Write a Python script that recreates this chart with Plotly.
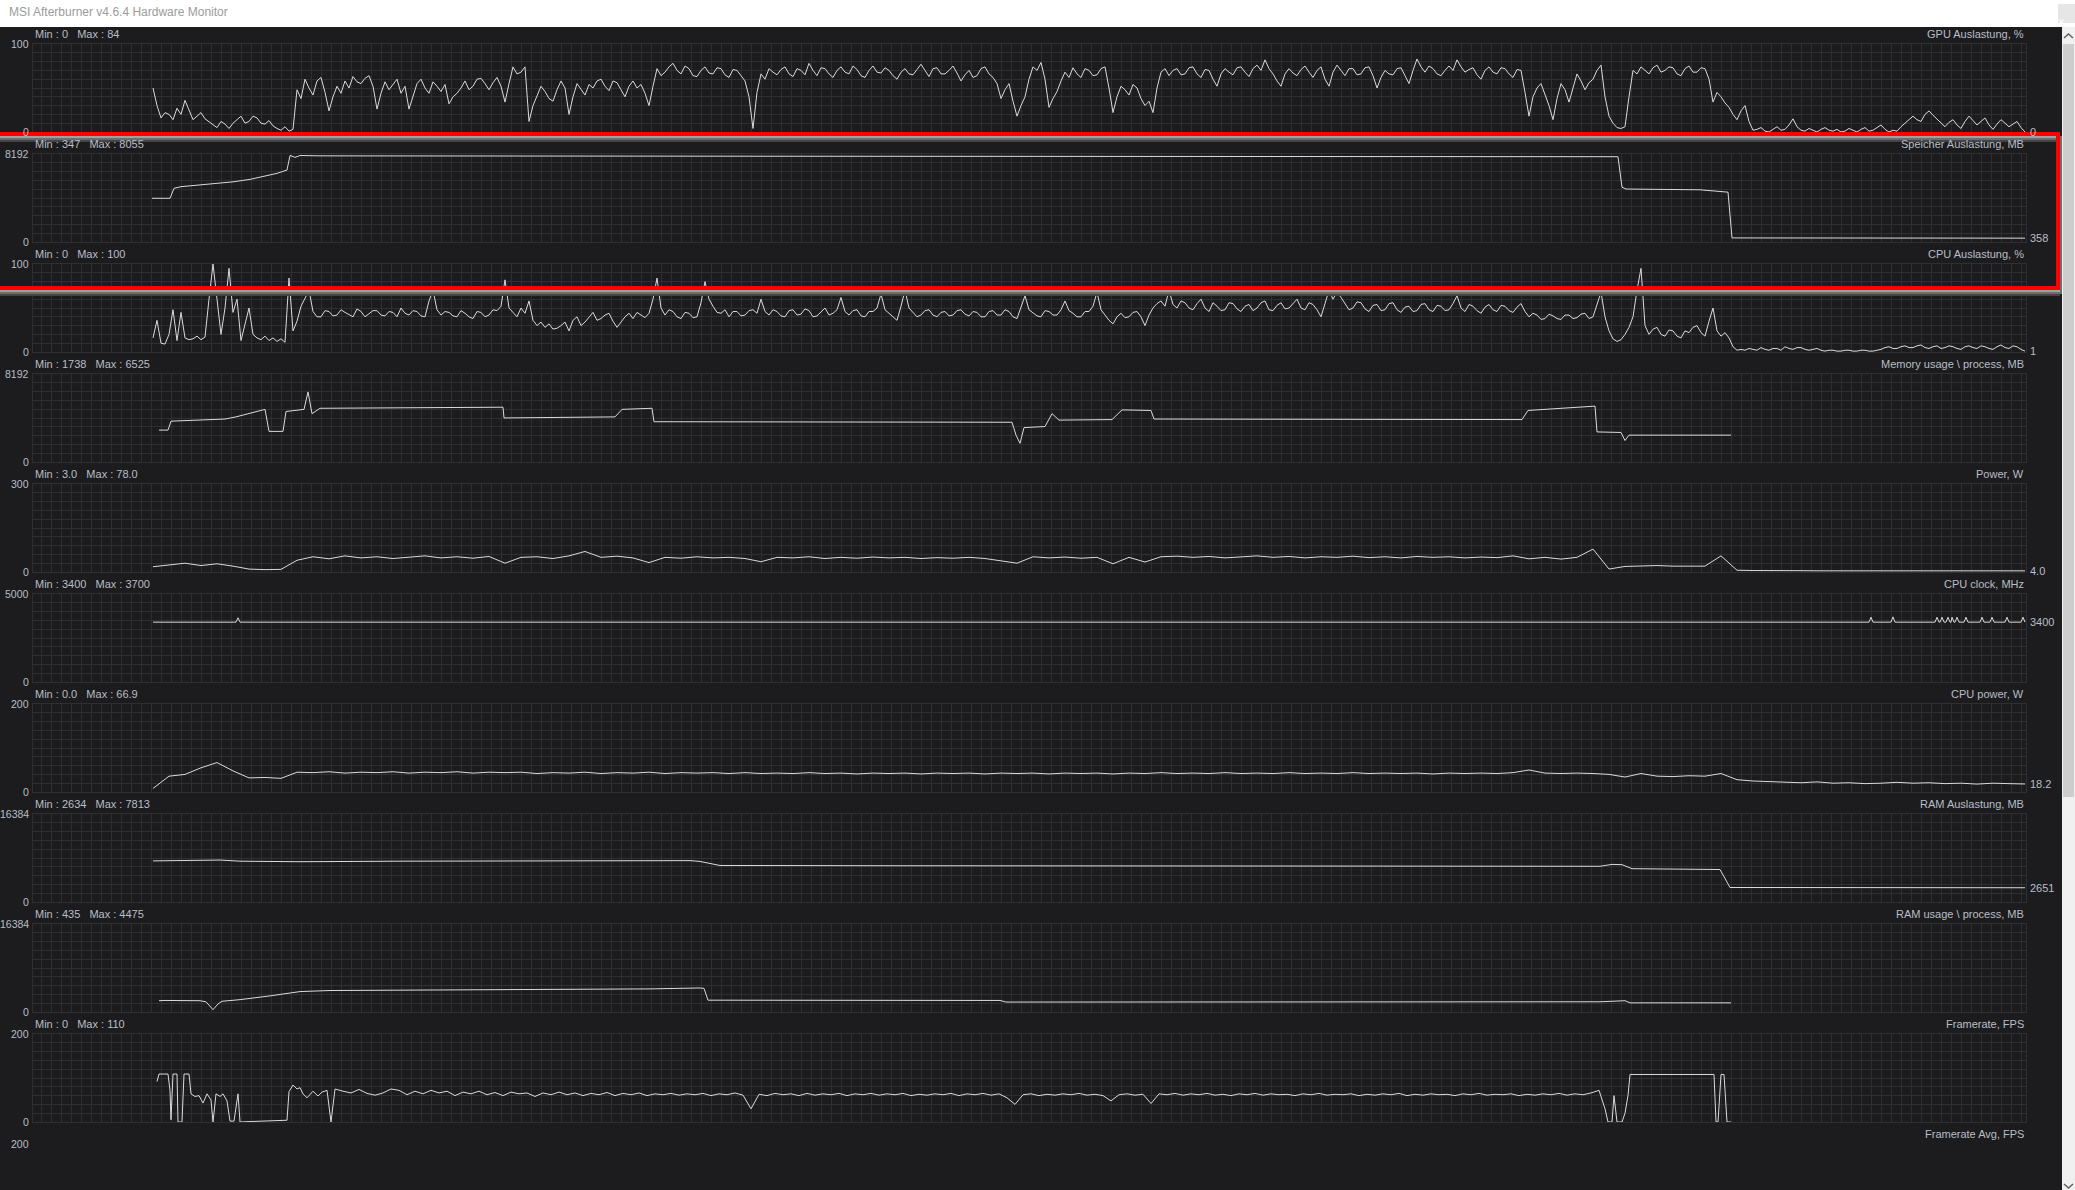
import plotly.graph_objects as go

W, H = 2075, 1190

# ---------------- data (time axis in sample units) ----------------
SAMPLE_START = 153
SAMPLE_END = 2025

gpu_load = [
    50,30, 16,22, 20,14, 27,20, 36,25, 14,18, 22,15, 12,8, 5,12, 9,4,
    10,14, 18,10, 12,18, 16,10, 9,13, 7,4, 2,6, 1,3, 48,38, 60,50,
    42,58, 62,45, 24,40, 52,44, 58,50, 63,57, 55,61, 64,52, 26,44, 57,48,
    54,60, 44,52, 26,40, 55,60, 50,44, 57,52, 46,54, 32,40, 44,50, 58,48,
    52,60, 61,55, 48,56, 62,52, 34,55, 74,66, 68,74, 12,30, 40,52, 46,38,
    35,48, 58,50, 20,40, 55,48, 42,54, 50,58, 60,52, 47,58, 56,48, 40,52,
    58,50, 54,44, 30,52, 72,64, 68,74, 78,70, 66,75, 72,64, 63,70, 74,67,
    66,73, 72,65, 62,71, 70,64, 58,40, 4,45, 66,60, 72,68, 65,71, 74,66,
    63,72, 70,65, 78,70, 64,73, 72,66, 62,70, 74,68, 66,75, 71,64, 62,70,
    75,68, 67,73, 70,64, 60,68, 72,66, 65,71, 77,70, 63,72, 73,66, 66,70,
    75,67, 58,65, 70,62, 64,72, 74,66, 62,55, 38,48, 55,35, 18,30, 40,60,
    74,70, 79,60, 28,38, 46,58, 68,62, 73,66, 62,72, 70,64, 65,72, 74,50,
    22,40, 52,48, 42,54, 50,38, 30,35, 22,50, 68,72, 64,70, 72,65, 66,73,
    74,66, 62,71, 70,60, 52,66, 72,68, 65,73, 74,68, 63,72, 76,70, 82,72,
    66,58, 52,66, 72,67, 64,71, 75,68, 62,70, 74,60, 52,68, 76,70, 64,72,
    72,65, 66,73, 74,64, 50,62, 70,66, 65,72, 73,64, 55,70, 83,74, 68,75,
    72,66, 64,70, 75,70, 82,74, 68,71, 73,65, 60,70, 74,68, 66,73, 72,66,
    62,71, 70,45, 18,40, 50,55, 42,30, 14,38, 55,48, 34,50, 66,58, 48,56,
    60,70, 76,40, 18,10, 5,4, 6,40, 70,66, 74,70, 66,73, 76,68, 70,74,
    73,66, 64,72, 75,68, 68,73, 72,60, 34,45, 40,33, 28,20, 14,24, 30,12,
    2,3, 5,1, 0,3, 6,2, 3,8, 15,6, 2,1, 4,2, 0,3, 5,2,
    1,3, 0,1, 4,2, 0,3, 5,1, 2,5, 8,3, 0,2, 1,6, 10,15,
    18,14, 12,20, 24,19, 15,10, 6,11, 14,8, 4,12, 18,13, 8,12, 16,8,
    3,9, 14,10, 6,9, 12,5, 0]

vram_t = [152, 170, 174, 181, 233, 250, 277, 287, 290, 295, 300, 320, 700, 1100, 1500, 1618, 1622, 1626,
          1700, 1720, 1728, 1732, 1828, 1830, 2025]
vram_v = [4070, 4070, 5000, 5150, 5600, 5830, 6390, 6700, 8055, 7880, 8050, 8020, 7990, 7970, 7950, 7940,
          5100, 4930, 4860, 4660, 4640, 380, 380, 358, 358]

cpu_load = [
    16,36,10,9,20, 48,13,45,16,14, 15,18,14,17,60, 100,60,20,50,95, 45,60,13,30,50,
    20,16,14,18,13, 16,12,15,11,84, 24,35,52,62,70, 46,40,
    40,47, 46,41, 42,48, 45,42, 40,49, 46,40, 43,47, 47,42, 41,46,
    45,40, 50,44, 42,47, 46,41, 40,58, 70,48, 42,46, 45,41, 40,47, 44,40,
    38,46, 45,40, 42,48, 47,52, 82,50, 45,40, 50,44, 58,36, 30,34, 28,32,
    26,27, 30,34, 24,36, 40,30, 34,40, 45,36, 38,42, 44,35, 28,34, 40,44,
    38,45, 42,39, 44,60, 84,50, 42,48, 46,40, 38,45, 44,39, 40,56, 80,60,
    52,45, 44,48, 40,46, 46,41, 42,47, 48,44, 60,46, 42,48, 46,41, 40,47,
    48,42, 43,49, 47,40, 41,46, 50,42, 44,48, 62,46, 42,47, 48,41, 40,46,
    46,50, 66,48, 44,40, 36,52, 70,50, 45,40, 42,47, 48,42, 40,45, 46,41,
    42,47, 48,43, 41,46, 45,40, 40,46, 47,42, 42,48, 46,40, 38,50, 64,48,
    44,41, 40,47, 46,42, 42,48, 58,47, 44,40, 40,46, 46,52, 68,48, 42,36,
    32,40, 44,39, 40,45, 46,40, 30,42, 50,55, 58,52, 70,54, 50,58, 56,50,
    48,55, 60,50, 46,56, 52,47, 48,56, 55,49, 46,52, 54,47, 50,56, 58,48,
    47,53, 56,49, 50,55, 60,50, 48,56, 54,48, 40,55, 70,60, 68,62, 55,48,
    50,57, 56,49, 46,53, 54,47, 48,55, 56,48, 45,51, 52,46, 47,54, 55,48,
    46,53, 52,47, 48,55, 64,50, 46,54, 52,47, 44,51, 54,48, 46,53, 52,47,
    45,51, 55,46, 40,44, 42,37, 38,43, 41,38, 37,42, 42,38, 39,43, 44,38,
    40,55, 68,40, 24,15, 12,14, 20,28, 40,70, 95,30, 20,26, 28,20, 18,25,
    24,18, 16,24, 22,28, 30,22, 18,35, 50,24, 18,22, 16,6, 2,3, 2,4,
    3,2, 5,3, 2,4, 4,2, 6,4, 3,5, 5,3, 2,3, 4,2, 1,2,
    2,1, 1,2, 2,1, 1,2, 2,1, 1,2, 3,5, 6,4, 4,6, 7,5,
    5,7, 8,5, 4,6, 7,4, 5,7, 6,4, 3,6, 7,5, 4,7, 6,4,
    3,6, 8,5, 4,7, 6,3, 1]

procmem_t = [159, 168, 171, 225, 236, 265, 269, 283, 286, 304, 308, 312, 320, 503, 504, 615, 622, 652, 654,
             1012, 1016, 1020, 1024, 1045, 1052, 1059, 1112, 1122, 1151, 1154, 1522, 1528, 1595, 1597,
             1621, 1625, 1629, 1731]
procmem_v = [2970, 2970, 3800, 4000, 4200, 4900, 2850, 2850, 4700, 4900, 6525, 4500, 5000, 5100, 4100, 4200,
             4900, 5000, 3750, 3700, 2500, 1738, 3200, 3300, 4500, 3900, 3950, 4850, 4800, 4000, 3950,
             4800, 5200, 2800, 2750, 2000, 2500, 2500]

power = [18,25,30,22,28,20,10,8,9,40,52,45,55,48,52,46,50,55,48,52,47,53,30,50,52,46,55,70,50,54,
         48,32,50,47,52,48,50,46,35,50,48,52,46,50,47,51,48,50,46,49,47,50,46,38,30,52,48,51,47,50,
         28,50,34,52,54,50,53,48,52,55,50,53,48,52,50,54,49,52,48,53,50,52,48,51,49,55,45,50,44,50,
         78,10,19,20,22,20,21,20,55,6,5,4,4,4.5,4,4,4,4,4,4.5,4,4,4.5,4.5,4,4,4,4.0]

clock_t = [153, 236, 238, 240, 1869, 1871, 1873, 1891, 1893, 1895, 1935, 1937, 1939, 1940, 1942, 1944,
           1946, 1948, 1950, 1951, 1952, 1954, 1955, 1957, 1959, 1964, 1966, 1968, 1980, 1982, 1984,
           1990, 1992, 1994, 2005, 2007, 2009, 2021, 2023, 2025]
clock_v = [3400, 3400, 3650, 3400, 3400, 3680, 3400, 3400, 3700, 3400, 3400, 3680, 3400, 3400, 3680, 3400,
           3400, 3680, 3400, 3400, 3680, 3400, 3400, 3680, 3400, 3400, 3680, 3400, 3400, 3680, 3400,
           3400, 3680, 3400, 3400, 3680, 3400, 3400, 3680, 3400]

cpu_power = [8,36,40,55,66.9,48,32,33,31,45,44,46,43,45,44,46,43,45,44,46,43,45,44,45,42,44,43,45,42,44,
             43,45,42,44,43,44,42,44,42,43,42,44,42,43,41,43,42,43,41,43,42,43,41,43,42,43,41,43,42,43,
             41,43,42,44,42,43,42,44,42,43,42,44,42,43,42,44,42,43,42,43,41,43,42,43,42,44,50,43,42,43,
             42,40,34,42,36,35,37,36,42,28,25,24,22,21,23,20,21,19,20,22,20,21,19,20,18,20,19,18.2]

ram_t = [153, 200, 220, 240, 300, 400, 500, 690, 700, 715, 720, 900, 1200, 1500, 1600, 1612, 1622, 1632,
         1700, 1720, 1730, 2025]
ram_v = [7650, 7700, 7813, 7600, 7500, 7600, 7650, 7700, 7550, 6900, 6800, 6750, 6700, 6650, 6650, 7000,
         6950, 6200, 6100, 6050, 2700, 2651]

procram_t = [159, 165, 200, 206, 213, 218, 222, 240, 270, 300, 330, 400, 550, 650, 700, 704, 708, 1000, 1006,
             1500, 1600, 1625, 1630, 1731]
procram_v = [2100, 2150, 2100, 1900, 435, 1500, 2000, 2300, 3000, 3800, 4000, 4050, 4200, 4300, 4475, 4400,
             2200, 2150, 1850, 1900, 1900, 2100, 1700, 1700]

fps_t = [157, 159, 168, 170, 171, 173, 177, 178, 182, 183, 184, 189, 191, 195, 199, 203, 207, 211, 213, 216,
         220, 223, 227, 230, 234, 238, 240, 250, 270, 287, 289, 293, 297, 300, 303, 307, 313, 318, 322, 327,
         331, 335, 343, 351, 359, 367, 375, 383, 391, 399, 407, 415, 423, 431, 439, 447, 455, 463, 471, 479,
         487, 495, 503, 511, 519, 527, 535, 543, 551, 559, 567, 575, 583, 591, 599, 607, 615, 623, 631, 639,
         647, 655, 663, 671, 679, 687, 695, 703, 711, 719, 727, 735, 743, 751, 759, 767, 775, 783, 791, 799,
         807, 815, 823, 831, 839, 847, 855, 863, 871, 879, 887, 895, 903, 911, 919, 927, 935, 943, 951, 959,
         967, 975, 983, 991, 999, 1007, 1015, 1023, 1031, 1039, 1047, 1055, 1063, 1071, 1079, 1087, 1095,
         1103, 1111, 1119, 1127, 1135, 1143, 1151, 1159, 1167, 1175, 1183, 1191, 1199, 1207, 1215, 1223,
         1231, 1239, 1247, 1255, 1263, 1271, 1279, 1287, 1295, 1303, 1311, 1319, 1327, 1335, 1343, 1351,
         1359, 1367, 1375, 1383, 1391, 1399, 1407, 1415, 1423, 1431, 1439, 1447, 1455, 1463, 1471, 1479,
         1487, 1495, 1503, 1511, 1519, 1527, 1535, 1543, 1551, 1559, 1567, 1575, 1583, 1591, 1599, 1605,
         1608, 1612, 1614, 1617, 1622, 1625, 1628, 1630, 1714, 1716, 1718, 1721, 1724, 1727, 1731]
fps_v = [92, 109, 109, 72, 5, 109, 109, 0, 0, 60, 109, 109, 64, 58, 60, 43, 64, 50, 0, 64,
         58, 64, 48, 2, 2, 64, 0, 1, 3, 4, 69, 84, 75, 78, 64, 55, 70, 59, 68, 72,
         0, 75, 70, 66, 74, 65, 61, 66, 75, 72, 62, 70, 64, 72, 66, 70, 60, 68, 64, 70,
         62, 67, 60, 68, 64, 66, 58, 66, 62, 68, 62, 66, 60, 65, 62, 67, 60, 65, 62, 66,
         60, 64, 62, 65, 61, 64, 62, 65, 60, 64, 62, 66, 61, 30, 63, 60, 65, 62, 64, 60,
         65, 61, 64, 62, 65, 60, 64, 62, 65, 61, 64, 62, 65, 60, 63, 61, 64, 62, 65, 60,
         64, 62, 65, 61, 64, 55, 40, 62, 64, 60, 63, 61, 64, 62, 65, 61, 63,
         60, 48, 62, 64, 61, 63, 42, 64, 62, 65, 61, 64, 62, 65, 61, 63,
         60, 64, 62, 65, 61, 64, 62, 63, 60, 64, 62, 65, 61, 63, 62,
         64, 60, 63, 61, 64, 62, 65, 60, 63, 61, 64, 62, 63, 60, 64, 62,
         65, 61, 63, 62, 64, 60, 63, 61, 64, 62, 65, 61, 64, 62, 66, 72,
         30, 0, 0, 60, 0, 0, 20, 60, 108, 108, 0, 0, 108, 108, 0, 0]


def sample_times(values):
    """Evenly spaced sampling instants for a regularly logged series."""
    n = len(values)
    step = (SAMPLE_END - SAMPLE_START) / (n - 1)
    return [SAMPLE_START + step * i for i in range(n)]


panels = [
    dict(title="GPU Auslastung, %", stats="Min : 0   Max : 84", top=100,
         t=sample_times(gpu_load), v=gpu_load, end="0"),
    dict(title="Speicher Auslastung, MB", stats="Min : 347   Max : 8055", top=8192,
         t=vram_t, v=vram_v, end="358"),
    dict(title="CPU Auslastung, %", stats="Min : 0   Max : 100", top=100,
         t=sample_times(cpu_load), v=cpu_load, end="1"),
    dict(title="Memory usage \\ process, MB", stats="Min : 1738   Max : 6525", top=8192,
         t=procmem_t, v=procmem_v, end=None),
    dict(title="Power, W", stats="Min : 3.0   Max : 78.0", top=300,
         t=sample_times(power), v=power, end="4.0"),
    dict(title="CPU clock, MHz", stats="Min : 3400   Max : 3700", top=5000,
         t=clock_t, v=clock_v, end="3400"),
    dict(title="CPU power, W", stats="Min : 0.0   Max : 66.9", top=200,
         t=sample_times(cpu_power), v=cpu_power, end="18.2"),
    dict(title="RAM Auslastung, MB", stats="Min : 2634   Max : 7813", top=16384,
         t=ram_t, v=ram_v, end="2651"),
    dict(title="RAM usage \\ process, MB", stats="Min : 435   Max : 4475", top=16384,
         t=procram_t, v=procram_v, end=None),
    dict(title="Framerate, FPS", stats="Min : 0   Max : 110", top=200,
         t=fps_t, v=fps_v, end=None),
    dict(title="Framerate Avg, FPS", stats=None, top=200, t=[], v=[], end=None),
]

# ---------------- styling ----------------
BG = "#1c1c1e"
GRID = "#2f2f33"
LINE = "#dadada"
TXT = "#b9bec6"
FONT = "Liberation Sans, Arial, sans-serif"

PLOT_L, PLOT_R = 33, 2026
FIRST_TOP, PANEL_H, PANEL_PITCH = 44, 88, 110


def py(p):
    return 1 - p / H


def px(p):
    return p / W


fig = go.Figure()
annotations = []
shapes = []
layout_axes = {}

for k, p in enumerate(panels, start=1):
    top_px = FIRST_TOP + PANEL_PITCH * (k - 1)
    bot_px = top_px + PANEL_H
    yr = [0, p["top"]]
    if bot_px > H:
        visible = H - top_px
        yr = [p["top"] * (1 - visible / PANEL_H), p["top"]]
        dom = [0, py(top_px)]
    else:
        dom = [py(bot_px), py(top_px)]
    xn = "x" if k == 1 else f"x{k}"
    yn = "y" if k == 1 else f"y{k}"
    layout_axes["xaxis" if k == 1 else f"xaxis{k}"] = dict(
        domain=[px(PLOT_L), px(PLOT_R)], range=[PLOT_L, PLOT_R], anchor=yn,
        showgrid=True, gridcolor=GRID, gridwidth=1, tick0=41.7, dtick=10,
        showticklabels=False, ticks="", zeroline=False,
        showline=True, linecolor=GRID, linewidth=1, mirror=True, fixedrange=True)
    layout_axes["yaxis" if k == 1 else f"yaxis{k}"] = dict(
        domain=dom, range=yr, anchor=xn,
        showgrid=True, gridcolor=GRID, gridwidth=1, tick0=0, dtick=p["top"] / 10,
        showticklabels=False, ticks="", zeroline=False,
        showline=True, linecolor=GRID, linewidth=1, mirror=True, fixedrange=True)
    if p["t"]:
        fig.add_trace(go.Scatter(x=p["t"], y=p["v"], xaxis=xn, yaxis=yn, mode="lines",
                                 line=dict(color=LINE, width=1), hoverinfo="skip",
                                 showlegend=False))
    font = dict(family=FONT, size=11, color=TXT)
    lfont = dict(family=FONT, size=10.5, color=TXT)
    if p["stats"]:
        annotations.append(dict(x=px(PLOT_L), y=py(top_px - 10), xref="paper", yref="paper",
                                text=p["stats"].replace(" ", "\u00a0"), showarrow=False,
                                xanchor="left", yanchor="middle", font=font))
    annotations.append(dict(x=px(PLOT_R), y=py(top_px - 10), xref="paper", yref="paper",
                            text=p["title"], showarrow=False, xanchor="right", yanchor="middle",
                            font=font))
    annotations.append(dict(x=px(31), y=py(top_px), xref="paper", yref="paper",
                            text=str(p["top"]), showarrow=False, xanchor="right",
                            yanchor="middle", font=lfont))
    if bot_px <= H:
        annotations.append(dict(x=px(31), y=py(bot_px), xref="paper", yref="paper",
                                text="0", showarrow=False, xanchor="right", yanchor="middle",
                                font=lfont))
    if p["end"] is not None:
        annotations.append(dict(x=p["t"][-1], y=p["v"][-1], xref=xn, yref=yn, text=p["end"],
                                showarrow=False, xanchor="left", yanchor="middle", xshift=3,
                                font=font))

# window chrome: title bar, close button, scrollbar
shapes.append(dict(type="rect", xref="paper", yref="paper", x0=0, x1=1, y0=py(27), y1=1,
                   fillcolor="#ffffff", line=dict(width=0), layer="above"))
annotations.append(dict(x=px(7), y=py(12), xref="paper", yref="paper",
                        text="MSI Afterburner v4.6.4 Hardware Monitor", showarrow=False,
                        xanchor="left", yanchor="middle",
                        font=dict(family=FONT, size=12, color="#9b9b9b")))
shapes.append(dict(type="rect", xref="paper", yref="paper", x0=px(2058), x1=1, y0=py(23), y1=py(4),
                   fillcolor="#e6e6e6", line=dict(width=0), layer="above"))
annotations.append(dict(x=px(2066.5), y=py(13), xref="paper", yref="paper", text="×",
                        showarrow=False, font=dict(family=FONT, size=12, color="#ffffff")))
shapes.append(dict(type="rect", xref="paper", yref="paper", x0=px(2062), x1=1, y0=0, y1=py(27),
                   fillcolor="#f0f0f0", line=dict(width=0), layer="above"))
shapes.append(dict(type="rect", xref="paper", yref="paper", x0=px(2063), x1=px(2074), y0=py(797),
                   y1=py(44), fillcolor="#cdcdcd", line=dict(width=0), layer="above"))
shapes.append(dict(type="path", xref="paper", yref="paper",
                   path=f"M {px(2064)},{py(38)} L {px(2068.5)},{py(34)} L {px(2073)},{py(38)}",
                   line=dict(color="#606060", width=1.5), layer="above"))
shapes.append(dict(type="path", xref="paper", yref="paper",
                   path=f"M {px(2064)},{py(1184)} L {px(2068.5)},{py(1188)} L {px(2073)},{py(1184)}",
                   line=dict(color="#606060", width=1.5), layer="above"))

# red highlight frame with its drop shadow
for (a, b, c) in [(136, 138, "#a0a0a0"), (138, 140, "#6e6e6e"), (140, 142, "#444446"),
                  (290, 292, "#a0a0a0"), (292, 294, "#6e6e6e"), (294, 296, "#444446")]:
    shapes.append(dict(type="rect", xref="paper", yref="paper", x0=0, x1=px(2060), y0=py(b),
                       y1=py(a), fillcolor=c, line=dict(width=0), layer="above"))
shapes.append(dict(type="rect", xref="paper", yref="paper", x0=px(2060), x1=px(2062), y0=py(294),
                   y1=py(136), fillcolor="#6e6e6e", line=dict(width=0), layer="above"))
shapes.append(dict(type="rect", xref="paper", yref="paper", x0=px(-4), x1=px(2058), y0=py(288),
                   y1=py(134), fillcolor="rgba(0,0,0,0)", line=dict(color="#ff0000", width=4),
                   layer="above"))

fig.update_layout(
    width=W, height=H, margin=dict(l=0, r=0, t=0, b=0, pad=0),
    paper_bgcolor=BG, plot_bgcolor=BG, showlegend=False,
    annotations=annotations, shapes=shapes, **layout_axes)

fig.write_html("out.html", config={"displayModeBar": False},
               post_script="document.body.style.margin='0';document.body.style.overflow='hidden';")
